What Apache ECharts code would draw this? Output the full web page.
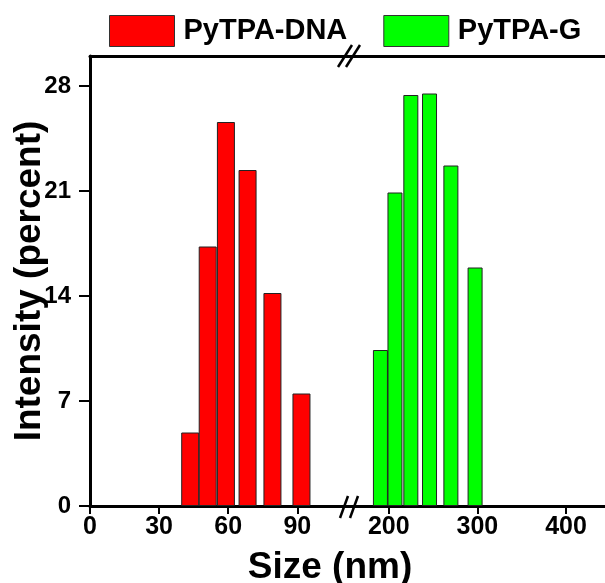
<!DOCTYPE html>
<html>
<head>
<meta charset="utf-8">
<script src="https://cdn.jsdelivr.net/npm/echarts@6/dist/echarts.min.js"></script>
<style>
html, body { margin: 0; padding: 0; background: #fff; }
#main { width: 605px; height: 583px; }
</style>
</head>
<body>
<div id="main"></div>
<script>
// data
var sizeDNA = [43.5, 51.1, 59.0, 68.4, 79.2, 91.8];
var intensityDNA = [4.9, 17.3, 25.6, 22.4, 14.2, 7.5];
var sizeG = [190.6, 207.0, 224.9, 246.0, 270.1, 297.4];
var intensityG = [10.4, 20.9, 27.4, 27.5, 22.7, 15.9];
var xTicksLeft = [0, 30, 60, 90];
var xTicksRight = [200, 300, 400];
var yTicks = [0, 7, 14, 21, 28];

var font = "'Liberation Sans', Arial, sans-serif";

function pairs(xs, ys) {
    var out = [];
    for (var i = 0; i < xs.length; i++) out.push([xs[i], ys[i]]);
    return out;
}

var myChart = echarts.init(document.getElementById('main'));

var lineStyle = { color: '#000', width: 3 };

function bottomAxis(grid, min, max, ticks) {
    return {
        type: 'value', gridIndex: grid, min: min, max: max, position: 'bottom',
        axisLine: { show: true, lineStyle: lineStyle },
        axisTick: { show: true, length: 8, customValues: ticks, lineStyle: { color: '#000', width: 2 } },
        axisLabel: { customValues: ticks, margin: 9, color: '#000', fontSize: 25, fontWeight: 'bold', fontFamily: font },
        splitLine: { show: false }
    };
}
function topAxis(grid, min, max) {
    return {
        type: 'value', gridIndex: grid, min: min, max: max, position: 'top',
        axisLine: { show: true, lineStyle: lineStyle },
        axisTick: { show: false }, axisLabel: { show: false }, splitLine: { show: false }
    };
}

// break marks "//"
function slashes(cx, cy, dx, gap) {
    var kids = [];
    [-gap, gap].forEach(function (o) {
        kids.push({
            type: 'line',
            shape: { x1: cx + o + dx, y1: cy - 11, x2: cx + o - dx, y2: cy + 11 },
            style: { stroke: '#000', lineWidth: 2.5 }
        });
    });
    return kids;
}

var option = {
    animation: false,
    backgroundColor: '#fff',
    title: {
        text: 'Size (nm)', left: 325, top: 544, textAlign: 'center',
        textStyle: { fontSize: 37, fontWeight: 'bold', fontFamily: font, color: '#000' }
    },
    legend: {
        left: 104, top: 10, itemWidth: 65, itemHeight: 31, itemGap: 36, icon: 'rect',
        itemStyle: { borderColor: '#333', borderWidth: 1 },
        textStyle: { fontSize: 29, fontWeight: 'bold', fontFamily: font, color: '#000', padding: [0, 0, 0, 4] },
        data: ['PyTPA-DNA', 'PyTPA-G']
    },
    grid: [
        { left: 90, width: 258, top: 56, bottom: 77 },
        { left: 348, right: 0, top: 56, bottom: 77 }
    ],
    xAxis: [
        bottomAxis(0, 0, 112, xTicksLeft),
        bottomAxis(1, 154, 444, xTicksRight),
        topAxis(0, 0, 112),
        topAxis(1, 154, 444)
    ],
    yAxis: [
        {
            type: 'value', gridIndex: 0, min: 0, max: 30,
            name: 'Intensity (percent)', nameLocation: 'middle', nameGap: 42, nameRotate: 90,
            nameMoveOverlap: false,
            nameTextStyle: { fontSize: 37, fontWeight: 'bold', fontFamily: font, color: '#000' },
            axisLine: { show: true, lineStyle: lineStyle },
            axisTick: { show: true, length: 11, customValues: yTicks, lineStyle: { color: '#000', width: 2 } },
            axisLabel: { customValues: yTicks, margin: 19, color: '#000', fontSize: 24, fontWeight: 'bold', fontFamily: font },
            splitLine: { show: false }
        },
        {
            type: 'value', gridIndex: 1, min: 0, max: 30,
            axisLine: { show: false }, axisTick: { show: false }, axisLabel: { show: false }, splitLine: { show: false }
        }
    ],
    series: [
        {
            name: 'PyTPA-DNA', type: 'bar', xAxisIndex: 0, yAxisIndex: 0, barWidth: 18,
            itemStyle: { color: '#ff0000', borderColor: '#222', borderWidth: 1 },
            data: pairs(sizeDNA, intensityDNA)
        },
        {
            name: 'PyTPA-G', type: 'bar', xAxisIndex: 1, yAxisIndex: 1, barWidth: 15,
            itemStyle: { color: '#00ff00', borderColor: '#222', borderWidth: 1 },
            data: pairs(sizeG, intensityG)
        }
    ],
    graphic: [
        { type: 'group', children: slashes(349, 56, 7, 4), z: 100 },
        { type: 'group', children: slashes(349, 507, 4, 5), z: 100 }
    ]
};
myChart.setOption(option);
</script>
</body>
</html>
